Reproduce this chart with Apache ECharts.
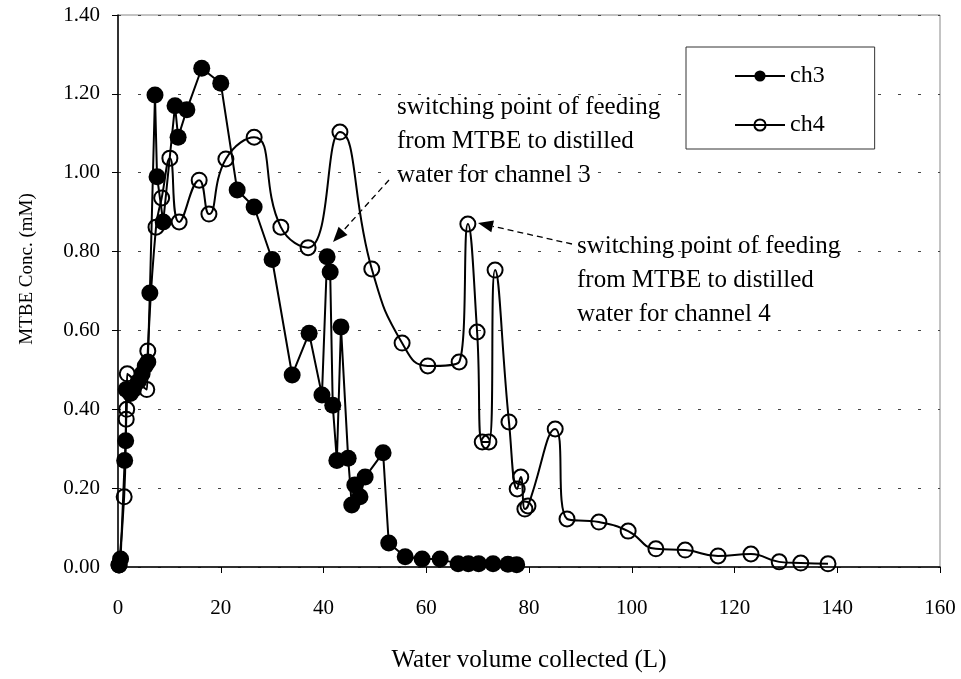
<!DOCTYPE html>
<html>
<head>
<meta charset="utf-8">
<script src="https://cdn.jsdelivr.net/npm/echarts@6/dist/echarts.min.js"></script>
<style>
html,body{margin:0;padding:0;background:#fff;}
#chart{width:961px;height:679px;}
</style>
</head>
<body>
<div id="chart"></div>
<script>
// ---- data ----
var ch3X = [0.2, 0.5, 1.3, 1.5, 1.6, 2.4, 3.0, 3.9, 4.7, 5.3, 5.8, 6.2, 7.2, 7.6, 8.8, 11.1, 11.7, 13.4, 16.3, 20.0, 23.2, 26.5, 30.0, 33.9, 37.2, 39.7, 40.7, 41.3, 41.8, 42.6, 43.4, 44.8, 45.5, 46.1, 47.1, 48.1, 51.6, 52.7, 55.9, 59.2, 62.7, 66.2, 68.2, 70.2, 73.0, 75.9, 77.6];
var ch3Y = [0.005, 0.02, 0.27, 0.32, 0.45, 0.44, 0.45, 0.47, 0.49, 0.51, 0.52, 0.695, 1.197, 0.99, 0.875, 1.17, 1.09, 1.16, 1.265, 1.227, 0.956, 0.913, 0.78, 0.487, 0.593, 0.436, 0.787, 0.748, 0.41, 0.27, 0.609, 0.276, 0.157, 0.208, 0.178, 0.228, 0.29, 0.061, 0.026, 0.02, 0.02, 0.008, 0.008, 0.008, 0.008, 0.007, 0.006];
var ch4X = [0.2, 1.2, 1.6, 1.7, 1.8, 5.6, 5.8, 7.4, 8.5, 10.1, 11.9, 15.8, 17.7, 21.0, 26.5, 31.7, 37.0, 43.2, 49.4, 55.3, 60.3, 66.4, 68.1, 69.9, 70.9, 72.2, 73.4, 76.1, 77.7, 78.4, 79.2, 79.8, 85.1, 87.4, 93.6, 99.3, 104.7, 110.4, 116.8, 123.2, 128.7, 132.9, 138.2];
var ch4Y = [0.005, 0.178, 0.375, 0.40, 0.49, 0.45, 0.548, 0.862, 0.936, 1.037, 0.875, 0.981, 0.895, 1.035, 1.09, 0.862, 0.81, 1.103, 0.756, 0.568, 0.51, 0.52, 0.87, 0.596, 0.317, 0.317, 0.753, 0.368, 0.198, 0.228, 0.147, 0.155, 0.35, 0.122, 0.114, 0.091, 0.046, 0.043, 0.028, 0.033, 0.013, 0.010, 0.008];
var seriesNames = ['ch3', 'ch4'];
var xTitle = 'Water volume collected (L)';
var yTitle = 'MTBE Conc. (mM)';
var note3 = ['switching point of feeding', 'from MTBE to distilled', 'water for channel 3'];
var note4 = ['switching point of feeding', 'from MTBE to distilled', 'water for channel 4'];

function pairs(xs, ys) { return xs.map(function (x, i) { return [x, ys[i]]; }); }

var FONT = '"Liberation Serif", "Times New Roman", serif';
var chart = echarts.init(document.getElementById('chart'), null, {renderer: 'canvas'});

function arrow(x1, y1, x2, y2) {
  var ang = Math.atan2(y2 - y1, x2 - x1);
  var L = 15, W = 6;
  var bx = x2 - L * Math.cos(ang), by = y2 - L * Math.sin(ang);
  var px = -Math.sin(ang) * W, py = Math.cos(ang) * W;
  return [
    {type: 'line', shape: {x1: x1, y1: y1, x2: bx, y2: by}, style: {stroke: '#000', lineWidth: 1.3, lineDash: [6, 4]}},
    {type: 'polygon', shape: {points: [[x2, y2], [bx + px, by + py], [bx - px, by - py]]}, style: {fill: '#000'}}
  ];
}

var graphics = [];
graphics.push({type: 'text', left: 397, top: 90, style: {text: note3.join('\n'), font: '25px ' + FONT, fill: '#000', lineHeight: 34}});
graphics.push({type: 'text', left: 577, top: 229, style: {text: note4.join('\n'), font: '25px ' + FONT, fill: '#000', lineHeight: 34}});
graphics = graphics.concat(arrow(389, 180, 333, 242));
graphics = graphics.concat(arrow(572, 244, 478, 223));

chart.setOption({
  animation: false,
  backgroundColor: '#fff',
  grid: {left: 118, right: 21, top: 15, bottom: 112, show: true, borderColor: '#888', borderWidth: 1, backgroundColor: 'transparent'},
  xAxis: {
    type: 'value', min: 0, max: 160, interval: 20,
    name: xTitle, nameLocation: 'middle', nameGap: 81,
    nameTextStyle: {fontFamily: FONT, fontSize: 25, color: '#000'},
    axisLine: {lineStyle: {color: '#000', width: 1.5}},
    axisTick: {show: true, inside: false, length: 6, lineStyle: {color: '#000'}},
    axisLabel: {fontFamily: FONT, fontSize: 21, color: '#000', margin: 31},
    splitLine: {show: false}
  },
  yAxis: {
    type: 'value', min: 0, max: 1.4, interval: 0.2,
    name: yTitle, nameLocation: 'middle', nameGap: 81,
    nameTextStyle: {fontFamily: FONT, fontSize: 19, color: '#000', padding: [0, 0, 0, 44]},
    axisLine: {show: true, lineStyle: {color: '#000', width: 1.5}},
    axisTick: {show: true, inside: false, length: 6, lineStyle: {color: '#000'}},
    axisLabel: {fontFamily: FONT, fontSize: 21, color: '#000', margin: 18, formatter: function (v) { return v.toFixed(2); }},
    splitLine: {show: true, lineStyle: {color: '#444', width: 1, type: [3, 17]}}
  },
  legend: {
    orient: 'vertical', left: 686, top: 47,
    padding: [17, 50, 12, 48], itemGap: 25, itemWidth: 50, itemHeight: 14,
    backgroundColor: '#fff', borderColor: '#333', borderWidth: 1,
    textStyle: {fontFamily: FONT, fontSize: 24, color: '#000'},
    data: seriesNames
  },
  series: [
    {
      name: seriesNames[0], type: 'line', data: pairs(ch3X, ch3Y),
      symbol: 'circle', symbolSize: 17, showAllSymbol: true, smooth: false,
      lineStyle: {color: '#000', width: 2},
      itemStyle: {color: '#000', borderColor: '#000', borderWidth: 0}
    },
    {
      name: seriesNames[1], type: 'line', data: pairs(ch4X, ch4Y),
      symbol: 'circle', symbolSize: 15, showAllSymbol: true, smooth: 0.5,
      lineStyle: {color: '#000', width: 2},
      itemStyle: {color: 'rgba(0,0,0,0)', borderColor: '#000', borderWidth: 2}
    }
  ],
  graphic: graphics
});
</script>
</body>
</html>
